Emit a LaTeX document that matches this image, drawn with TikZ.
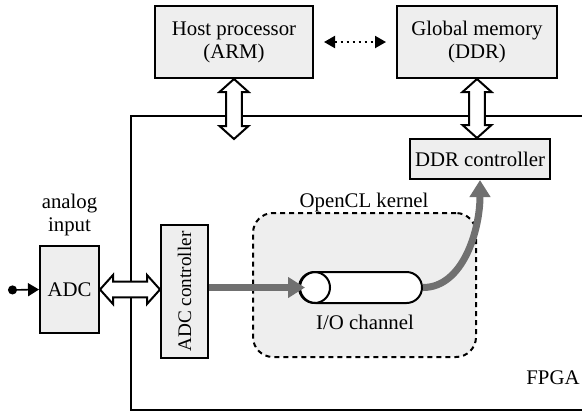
\documentclass[tikz,border=0pt]{standalone}
\usepackage{fontspec}
\setmainfont{Liberation Serif}
\newfontfamily\diagfont{Liberation Serif}
\usepackage{xcolor}
\definecolor{lgray}{RGB}{238,238,238}
\definecolor{dgray}{RGB}{112,112,112}
\usetikzlibrary{positioning, calc, shapes.misc, arrows.meta}
\tikzstyle{Block} = [
draw,
line width=1pt,
fill=lgray,
align=center,
inner sep=0pt]
\tikzstyle{KernelBox} = [
draw,
line width=1pt,
dash pattern=on 2.5pt off 2pt,
fill=lgray,
rounded corners=10pt,
minimum width=111.5pt,
minimum height=72pt]
\tikzstyle{Channel} = [
draw,
line width=1pt,
fill=white,
rounded rectangle,
minimum width=61pt,
minimum height=15.5pt,
inner sep=0pt]
\tikzstyle{ArrowData} = [
line width=3.5pt,
dgray,
-{Triangle[length=8.5pt, width=10pt]}]
\tikzstyle{ArrowDotted} = [
line width=1pt,
dotted,
{Triangle[length=5.5pt, width=6pt]}-{Triangle[length=5.5pt, width=6pt]},
shorten >=5pt, shorten <=5pt]
\tikzstyle{BusArrow} = [
draw,
line width=1pt,
fill=white,
line join=miter]
% hollow two-headed bus arrow from #1 to #2
\newcommand{\busarrow}[2]{%
\coordinate (ba) at ($(#1)!6.5pt!(#2)$);
\coordinate (bb) at ($(#2)!6.5pt!(#1)$);
\draw[BusArrow] (#1) -- ($(ba)!7.25pt!90:(#2)$) -- ($(ba)!3.9pt!90:(#2)$)
  -- ($(bb)!3.9pt!-90:(#1)$) -- ($(bb)!7.25pt!-90:(#1)$) -- (#2)
  -- ($(bb)!7.25pt!90:(#1)$) -- ($(bb)!3.9pt!90:(#1)$)
  -- ($(ba)!3.9pt!-90:(#2)$) -- ($(ba)!7.25pt!-90:(#2)$) -- cycle;}

\begin{document}
\begin{tikzpicture}[x=0.5pt, y=-0.5pt, font=\diagfont\fontsize{10.4}{11.5}\selectfont]
    \useasboundingbox (0,0) rectangle (582,414);

    % FPGA frame
    \draw[line width=1pt] (600,116) -- (131,116) -- (131,410) -- (600,410);
    \node (fpga) at (553,378) {FPGA};

    \node [KernelBox] (kern) at (364.5,285) {};
    \node (kernlbl) at (364,202) {OpenCL kernel};
    \node [Channel] (chan) at (361,287.5) {};
    \draw[line width=1pt] ($(chan.west)+(15.5,0)$) circle [radius=7.75pt];
    \node (chanlbl) at (365,322) {I/O channel};

    \node [Block, minimum width=79pt, minimum height=36pt] (host) at (234,42) {Host processor\\(ARM)};
    \node [Block, minimum width=80pt, minimum height=36pt, right=41pt of host] (mem) {Global memory\\(DDR)};
    \node [Block, minimum width=70pt, minimum height=20pt] (ddrc) at (480,159) {DDR controller};
    \node [Block, minimum width=29.5pt, minimum height=43.5pt] (adc) at (69.5,289.5) {ADC};
    \node [above=1pt of adc, align=center] (adclbl) {analog\\input};
    \node [Block, minimum width=23.5pt, minimum height=66.5pt, font=\diagfont\fontsize{9.6}{11}\selectfont] (adcc) at (184.5,291.5) {\rotatebox{90}{ADC controller}};

    \coordinate (ain) at (8,290);
    \coordinate (hostbus) at ($(host.south)+(0,60)$);
    \coordinate (chanin) at ($(chan.west)+(6,0)$);

    \draw[ArrowDotted] (host) -- (mem);
    \busarrow{host.south}{hostbus}
    \busarrow{mem.south}{mem.south |- ddrc.north}
    \busarrow{adc.east}{adc.east -| adcc.west}
    \draw[line width=0.8pt, {Circle[length=4.5pt]}-{Triangle[length=5.5pt, width=6.5pt]}] (ain) -- (adc.west);
    \draw[ArrowData] (adcc.east |- chan.center) -- (chanin);
    \draw[ArrowData] (chan.east) .. controls +(40,0) and +(0,50) .. (ddrc.south);
\end{tikzpicture}
\end{document}
